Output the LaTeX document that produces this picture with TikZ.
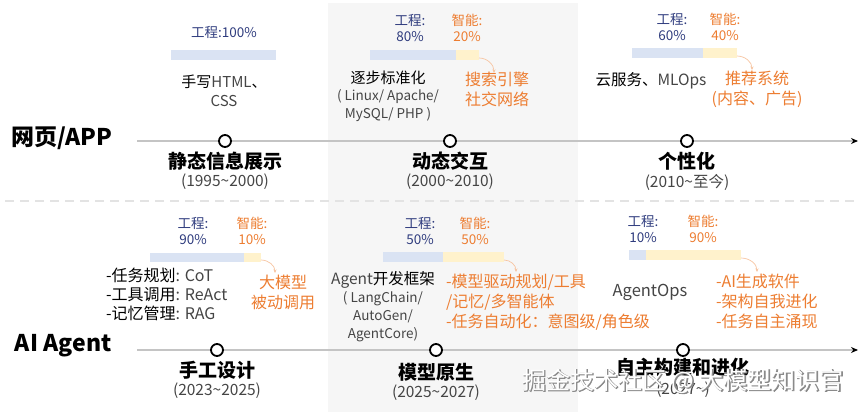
\documentclass[tikz,border=0pt]{standalone}
\usepackage{fontspec}
\setmainfont{Noto Sans CJK SC}
\newfontfamily\wmoutline[FakeBold=3]{Noto Sans CJK SC}
\usetikzlibrary{arrows.meta}
\definecolor{navy}{HTML}{2F3C7E}
\definecolor{orng}{HTML}{ED7D31}
\definecolor{barblue}{HTML}{DAE3F3}
\definecolor{baryel}{HTML}{FFF2CC}
\definecolor{colshade}{HTML}{F6F6F6}
\definecolor{axis}{HTML}{C4C4C4}
\definecolor{txtgray}{HTML}{454545}
\definecolor{wmgray}{HTML}{8A8A8A}
\newcommand{\tld}{{\textasciitilde}}
\begin{document}
\begin{tikzpicture}[x=1pt,y=-1pt,
 every node/.style={inner sep=0pt, outer sep=0pt},
 pct/.style={font=\fontsize{13.5}{16}\selectfont, align=center},
 eng/.style={pct, text=navy},
 intel/.style={pct, text=orng},
 body/.style={font=\fontsize{15}{19}\selectfont, align=center, text=black},
 note/.style={font=\fontsize{13.5}{18}\selectfont, align=center, text=txtgray},
 orn/.style={font=\fontsize{16}{20}\selectfont, text=orng, align=center},
 ornlist/.style={font=\fontsize{16}{20}\selectfont, text=orng, align=left, anchor=west},
 stage/.style={font=\fontsize{19}{22}\selectfont\bfseries},
 era/.style={font=\fontsize{15.5}{17}\selectfont, text=txtgray},
 rowlabel/.style={font=\fontsize{23}{26}\selectfont\bfseries, anchor=west},
 dot/.style={circle, draw=black, line width=1.8pt, fill=white, minimum size=12pt},
 axisline/.style={draw=axis, line width=1.5pt, -{Stealth[color=black,length=7pt,width=6pt]}},
 hint/.style={draw=orng!45, line width=0.7pt, -{Stealth[length=3.5pt,width=3pt]}},
 wm/.style={font=\fontsize{24}{26}\selectfont}
]
\useasboundingbox (0,0) rectangle (863,412);
\fill[white] (0,0) rectangle (863,412);
\fill[colshade] (328,3) rectangle (578,412);
\draw[gray!22, line width=1.3pt, dash pattern=on 9pt off 6pt] (5,201) -- (858,201);

% row labels
\node[rowlabel] (lweb) at (12,138) {网页/APP};
\node[rowlabel] (lai) at (15,346) {AI Agent};

% timelines
\coordinate (ts) at (137,141); \coordinate (te) at (858,141);
\draw[axisline] (ts) -- (te);
\coordinate (bs) at (137,350); \coordinate (be) at (858,350);
\draw[axisline] (bs) -- (be);
\node[dot] (d1) at (225,141) {};
\node[dot] (d2) at (450,141) {};
\node[dot] (d3) at (687,141) {};
\node[dot] (d4) at (217,350) {};
\node[dot] (d5) at (436,350) {};
\node[dot] (d6) at (683,350) {};

% stage labels
\node[stage] (s1) at (225,161) {静态信息展示};
\node[era] (e1) at (225,182) {(1995\tld 2000)};
\node[stage] (s2) at (450,161) {动态交互};
\node[era] (e2) at (450,182) {(2000\tld 2010)};
\node[stage] (s3) at (687,161) {个性化};
\node[era] (e3) at (687,182) {(2010\tld{}至今)};
\node[stage] (s4) at (217,370) {手工设计};
\node[era] (e4) at (217,391) {(2023\tld 2025)};
\node[stage] (s5) at (436,372) {模型原生};
\node[era] (e5) at (436,393) {(2025\tld 2027)};
\node[stage] (s6) at (683,367) {自主构建和进化};
\node[era] (e6) at (683,390) {(2027\tld)};

% ---- top column 1
\node[eng] (p1) at (224,32) {工程:100\%};
\fill[barblue] (171,50) rectangle (276,60);
\node[body] (t1) at (224,91) {手写{\color{txtgray}HTML}、\\{\color{txtgray}CSS}};

% ---- top column 2
\node[eng] (p2) at (410,28) {工程:\\80\%};
\node[intel] (q2) at (467,28) {智能:\\20\%};
\fill[barblue] (370,50) rectangle (456,60);
\fill[baryel] (456,50) rectangle (479,60);
\coordinate (h2a) at (479,58); \coordinate (h2b) at (494,73);
\draw[hint] (h2a) to[out=0,in=90] (h2b);
\node[body] (t2) at (388,78) {逐步标准化};
\node[note] (n2) at (388,106) {( Linux/ Apache/\\MySQL/ PHP )};
\node[orn] (o2) at (497,89) {搜索引擎\\社交网络};

% ---- top column 3
\node[eng] (p3) at (672,27) {工程:\\60\%};
\node[intel] (q3) at (725,27) {智能:\\40\%};
\fill[barblue] (632,48) rectangle (703,58);
\fill[baryel] (703,48) rectangle (737,58);
\coordinate (h3a) at (737,56); \coordinate (h3b) at (752,70);
\draw[hint] (h3a) to[out=0,in=90] (h3b);
\node[body, font=\fontsize{15.5}{19}\selectfont] (t3) at (651,81) {云服务、{\color{txtgray}MLOps}};
\node[orn] (o3) at (757,89) {推荐系统\\(内容、广告)};

% ---- bottom column 1
\node[eng] (p4) at (193,231) {工程:\\90\%};
\node[intel] (q4) at (252,231) {智能:\\10\%};
\fill[barblue] (150,253) rectangle (244,262);
\fill[baryel] (244,253) rectangle (261,262);
\coordinate (h4a) at (261,260); \coordinate (h4b) at (275,273);
\draw[hint] (h4a) to[out=0,in=90] (h4b);
\node[body, align=left, anchor=west, font=\fontsize{16}{19}\selectfont] (t4) at (106,294)
 {-任务规划{\color{txtgray}: CoT}\\-工具调用{\color{txtgray}: ReAct}\\-记忆管理{\color{txtgray}: RAG}};
\node[orn] (o4) at (283,292) {大模型\\被动调用};

% ---- bottom column 2
\node[eng] (p5) at (420,231) {工程:\\50\%};
\node[intel] (q5) at (475,231) {智能:\\50\%};
\fill[barblue] (383,252) rectangle (443,262);
\fill[baryel] (443,252) rectangle (504,262);
\coordinate (h5a) at (504,260); \coordinate (h5b) at (516,272);
\draw[hint] (h5a) to[out=0,in=90] (h5b);
\node[body, font=\fontsize{15.5}{19}\selectfont] (t5) at (383,280) {{\color{txtgray}Agent}开发框架};
\node[note] (n5) at (383,317) {( LangChain/\\AutoGen/\\AgentCore)};
\node[ornlist] (o5) at (446,302) {-模型驱动规划/工具\\/记忆/多智能体\\-任务自动化：意图级/角色级};

% ---- bottom column 3
\node[eng] (p6) at (643,229) {工程:\\10\%};
\node[intel] (q6) at (703,229) {智能:\\90\%};
\fill[barblue] (629,250) rectangle (646,260);
\fill[baryel] (646,250) rectangle (741,260);
\coordinate (h6a) at (741,258); \coordinate (h6b) at (757,272);
\draw[hint] (h6a) to[out=0,in=90] (h6b);
\node[note, font=\fontsize{16.5}{18}\selectfont] (t6) at (650,292) {AgentOps};
\node[ornlist] (o6) at (716,301) {-AI生成软件\\-架构自我进化\\-任务自主涌现};

% watermark
\node[wm, text=wmgray, font=\wmoutline\fontsize{24}{26}\selectfont] (wmo) at (683.6,381.6) {掘金技术社区 @ 大模型知识官};
\node[wm, text=white] (wmk) at (683,381) {掘金技术社区 @ 大模型知识官};
\end{tikzpicture}
\end{document}
